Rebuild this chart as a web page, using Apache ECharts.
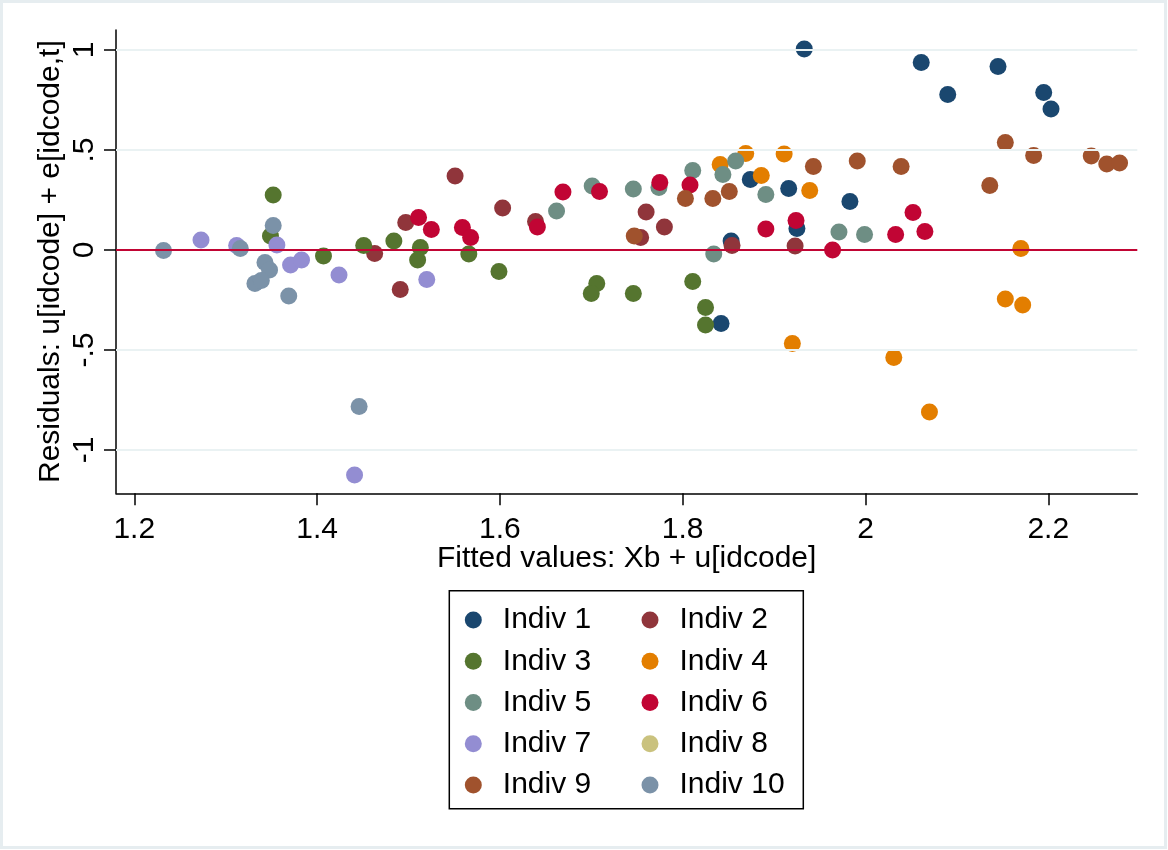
<!DOCTYPE html>
<html>
<head>
<meta charset="utf-8">
<script src="https://cdn.jsdelivr.net/npm/echarts@6/dist/echarts.min.js"></script>
<style>
html,body{margin:0;padding:0;background:#fff;}
#resid-graph{width:1168px;height:850px;}
</style>
</head>
<body>
<div id="resid-graph"></div>
<script>
// fitted value, residual per individual
var indiv1=[[1.933,1.005],[2.061,0.937],[2.090,0.777],[2.145,0.917],[2.195,0.788],[2.203,0.705],[1.874,0.352],[1.916,0.307],[1.983,0.242],[1.853,0.045],[1.842,-0.367],[1.925,0.108]];
var indiv2=[[1.463,-0.017],[1.491,-0.197],[1.497,0.138],[1.551,0.37],[1.603,0.21],[1.639,0.142],[1.754,0.062],[1.760,0.19],[1.780,0.115],[1.854,0.022],[1.923,0.02]];
var indiv3=[[1.352,0.275],[1.349,0.07],[1.407,-0.03],[1.451,0.023],[1.484,0.045],[1.513,0.012],[1.510,-0.05],[1.566,-0.02],[1.599,-0.108],[1.706,-0.167],[1.700,-0.217],[1.746,-0.218],[1.811,-0.158],[1.825,-0.288],[1.825,-0.375]];
var indiv4=[[1.841,0.428],[1.869,0.483],[1.886,0.372],[1.911,0.48],[1.939,0.298],[1.920,-0.467],[2.031,-0.537],[2.070,-0.81],[2.170,0.008],[2.153,-0.245],[2.172,-0.275]];
var indiv5=[[1.662,0.195],[1.701,0.32],[1.746,0.305],[1.774,0.313],[1.811,0.397],[1.844,0.377],[1.858,0.445],[1.891,0.278],[1.834,-0.02],[1.971,0.09],[1.999,0.077]];
var indiv6=[[1.511,0.162],[1.525,0.103],[1.559,0.113],[1.568,0.062],[1.641,0.115],[1.669,0.29],[1.709,0.293],[1.775,0.338],[1.808,0.325],[1.891,0.105],[1.924,0.147],[1.964,0.0],[2.033,0.077],[2.052,0.187],[2.065,0.092]];
var indiv7=[[1.273,0.05],[1.312,0.022],[1.356,0.025],[1.371,-0.075],[1.383,-0.05],[1.424,-0.125],[1.520,-0.147],[1.441,-1.125]];
var indiv8=[];
var indiv9=[[1.747,0.07],[1.803,0.257],[1.833,0.258],[1.851,0.293],[1.943,0.418],[1.991,0.445],[2.039,0.418],[2.136,0.322],[2.153,0.538],[2.184,0.473],[2.247,0.47],[2.264,0.43],[2.278,0.435]];
var indiv10=[[1.232,-0.003],[1.316,0.008],[1.352,0.122],[1.343,-0.062],[1.348,-0.10],[1.332,-0.167],[1.339,-0.153],[1.369,-0.23],[1.446,-0.783]];

var names=['Indiv 1','Indiv 2','Indiv 3','Indiv 4','Indiv 5','Indiv 6','Indiv 7','Indiv 8','Indiv 9','Indiv 10'];
var xTicks=[1.2,1.4,1.6,1.8,2,2.2];
var yTicks=[-1,-0.5,0,0.5,1];
var yGrid=[-1,-0.5,0.5,1];

var groups=[indiv1,indiv2,indiv3,indiv4,indiv5,indiv6,indiv7,indiv8,indiv9,indiv10];
var colors=['#1a476f','#90353b','#55752f','#e37e00','#6e8e84','#c10534','#938dd2','#cac27e','#a0522d','#7b92a8'];
var font='"Liberation Sans", Arial, sans-serif';

var series=groups.map(function(d,i){
	return {
		name:names[i],
		type:'scatter',
		symbol:'circle',
		symbolSize:17,
		z:3,
		itemStyle:{color:colors[i],opacity:1},
		data:d
	};
});

// gridlines + red line at zero
var gridLines=yGrid.map(function(v){
	return {yAxis:v,lineStyle:{color:'#eaf2f3',width:2,type:'solid'}};
});
gridLines.push({yAxis:0,lineStyle:{color:'#c10534',width:2.2,type:'solid'}});
series.unshift({
	name:'_grid',
	type:'scatter',
	data:[],
	z:1,
	silent:true,
	markLine:{silent:true,symbol:['none','none'],label:{show:false},animation:false,data:gridLines}
});

function stataNum(v){
	return String(v).replace('0.','.');
}

var legendBase={
	orient:'vertical',
	top:600,
	itemWidth:17,
	itemHeight:17,
	itemGap:11.25,
	icon:'circle',
	selectedMode:false,
	textStyle:{fontFamily:font,fontSize:30,lineHeight:30,color:'#000',padding:[0,0,0,16]}
};

var resid_graph=echarts.init(document.getElementById('resid-graph'));
resid_graph.setOption({
	animation:false,
	backgroundColor:'#fff',
	grid:{left:116,top:30,right:30.7,bottom:356.7,containLabel:false},
	xAxis:{
		type:'value',
		min:1.18,
		max:2.2974,
		name:'Fitted values: Xb + u[idcode]',
		nameLocation:'middle',
		nameGap:50,
		nameMoveOverlap:false,
		nameTextStyle:{fontFamily:font,fontSize:30,color:'#000'},
		axisLine:{show:true,onZero:false,lineStyle:{color:'#000',width:1.5}},
		axisTick:{show:true,length:12,lineStyle:{color:'#000',width:1.5},customValues:xTicks},
		axisLabel:{fontFamily:font,fontSize:30,color:'#000',margin:21,customValues:xTicks,formatter:function(v){return stataNum(v);}},
		splitLine:{show:false}
	},
	yAxis:{
		type:'value',
		min:-1.2165,
		max:1.1,
		name:'Residuals: u[idcode] + e[idcode,t]',
		nameLocation:'middle',
		nameGap:50,
		nameMoveOverlap:false,
		nameTextStyle:{fontFamily:font,fontSize:30,color:'#000'},
		axisLine:{show:true,onZero:false,lineStyle:{color:'#000',width:1.5}},
		axisTick:{show:true,length:12,lineStyle:{color:'#000',width:1.5},customValues:yTicks},
		axisLabel:{fontFamily:font,fontSize:30,color:'#000',margin:16,rotate:90,customValues:yTicks,formatter:function(v){return stataNum(v);}},
		splitLine:{show:false}
	},
	legend:[
		Object.assign({},legendBase,{left:459.8,data:[names[0],names[2],names[4],names[6],names[8]]}),
		Object.assign({},legendBase,{left:636.5,data:[names[1],names[3],names[5],names[7],names[9]]})
	],
	graphic:[
		{type:'rect',shape:{x:1.5,y:1.5,width:1164,height:846},style:{fill:'none',stroke:'#e6edf0',lineWidth:3},silent:true},
		{type:'rect',shape:{x:449.3,y:590.7,width:354,height:218},style:{fill:'none',stroke:'#000',lineWidth:1.5},silent:true}
	],
	series:series
});
</script>
</body>
</html>
